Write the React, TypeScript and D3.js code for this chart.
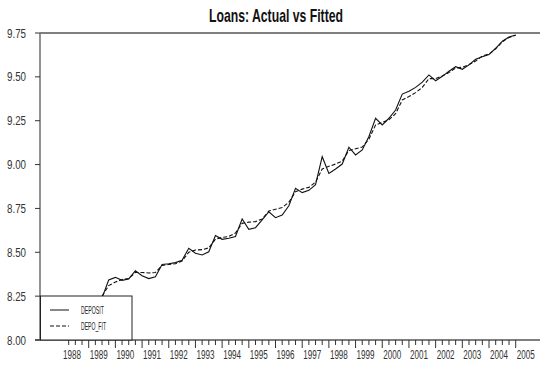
import React from "react";
import * as d3 from "d3";

// Quarterly periods shown on the chart
const periods: string[] = [
  "1989Q3", "1989Q4",
  "1990Q1", "1990Q2", "1990Q3", "1990Q4",
  "1991Q1", "1991Q2", "1991Q3", "1991Q4",
  "1992Q1", "1992Q2", "1992Q3", "1992Q4",
  "1993Q1", "1993Q2", "1993Q3", "1993Q4",
  "1994Q1", "1994Q2", "1994Q3", "1994Q4",
  "1995Q1", "1995Q2", "1995Q3", "1995Q4",
  "1996Q1", "1996Q2", "1996Q3", "1996Q4",
  "1997Q1", "1997Q2", "1997Q3", "1997Q4",
  "1998Q1", "1998Q2", "1998Q3", "1998Q4",
  "1999Q1", "1999Q2", "1999Q3", "1999Q4",
  "2000Q1", "2000Q2", "2000Q3", "2000Q4",
  "2001Q1", "2001Q2", "2001Q3", "2001Q4",
  "2002Q1", "2002Q2", "2002Q3", "2002Q4",
  "2003Q1", "2003Q2", "2003Q3", "2003Q4",
  "2004Q1", "2004Q2", "2004Q3", "2004Q4",
  "2005Q1",
];

// Log of loans (actual)
const deposit: number[] = [
  8.24, 8.342,
  8.357, 8.34, 8.348, 8.395,
  8.366, 8.35, 8.36, 8.43,
  8.435, 8.441, 8.455, 8.523,
  8.495, 8.485, 8.503, 8.595,
  8.574, 8.58, 8.59, 8.69,
  8.631, 8.64, 8.685, 8.731,
  8.697, 8.712, 8.765, 8.865,
  8.84, 8.853, 8.885, 9.045,
  8.95, 8.975, 9.003, 9.099,
  9.055, 9.083, 9.16, 9.264,
  9.226, 9.264, 9.311, 9.402,
  9.418, 9.44, 9.47, 9.511,
  9.478, 9.503, 9.532, 9.558,
  9.543, 9.568, 9.6, 9.615,
  9.627, 9.663, 9.703, 9.727,
  9.739,
];

// Fitted values from the regression
const depoFit: number[] = [
  8.25, 8.31,
  8.33, 8.345, 8.35, 8.385,
  8.385, 8.382, 8.385, 8.425,
  8.43, 8.435, 8.45, 8.5,
  8.513, 8.515, 8.525, 8.575,
  8.585, 8.59, 8.61, 8.665,
  8.672, 8.675, 8.69, 8.735,
  8.745, 8.755, 8.785, 8.845,
  8.86, 8.87, 8.9, 8.975,
  8.99, 9.003, 9.02, 9.08,
  9.09, 9.1, 9.145, 9.226,
  9.24, 9.255, 9.29, 9.368,
  9.388, 9.41, 9.44, 9.49,
  9.49, 9.505, 9.525, 9.55,
  9.555, 9.57, 9.59, 9.62,
  9.63, 9.66, 9.7, 9.725,
  9.737,
];

const yTicks: number[] = [8.0, 8.25, 8.5, 8.75, 9.0, 9.25, 9.5, 9.75];
const yearLabels: number[] = d3.range(1988, 2006);
const seriesNames: string[] = ["DEPOSIT", "DEPO_FIT"];

const W = 540;
const H = 368;
const left = 40;
const right = 540;
const top = 33;
const bottom = 340;

const toYear = (p: string) => +p.slice(0, 4) + (+p.slice(5) - 1) / 4;

export default function App() {
  const x = d3.scaleLinear().domain([1988, 2005]).range([62, 515.7]);
  const y = d3.scaleLinear().domain([8, 9.75]).range([bottom, top]);

  const line = d3
    .line<number>()
    .x((_, i) => x(toYear(periods[i])))
    .y((v) => y(v));

  const quarterTicks = d3.range(1, 17 * 4 + 1).map((i) => 1988 + i / 4);
  const narrow = "'Liberation Sans Narrow', 'Arial Narrow', 'Liberation Sans', Arial, sans-serif";

  return (
    <svg
      width={W}
      height={H}
      style={{ position: "absolute", left: 0, top: 0, background: "#fff" }}
    >
      <defs>
        <clipPath id="plotClip">
          <rect x={left} y={top} width={right - left} height={bottom - top} />
        </clipPath>
      </defs>
      <rect x={0} y={0} width={W} height={H} fill="#fff" />

      <text
        x={276}
        y={22}
        textAnchor="middle"
        fontFamily={narrow}
        fontWeight="bold"
        fontSize={19}
        textLength={134}
        lengthAdjust="spacingAndGlyphs"
        fill="#111"
      >
        Loans: Actual vs Fitted
      </text>

      {/* series */}
      <g clipPath="url(#plotClip)" fill="none">
        <path d={line(deposit) ?? ""} stroke="#111" strokeWidth={1.1} />
        <path
          d={line(depoFit) ?? ""}
          stroke="#111"
          strokeWidth={1.1}
          strokeDasharray="4,2"
        />
      </g>

      {/* frame */}
      <line x1={left} x2={right} y1={top} y2={top} stroke="#000" strokeWidth={1.2} />
      <line x1={35} x2={right} y1={bottom} y2={bottom} stroke="#000" strokeWidth={1.2} />
      <line x1={left} x2={left} y1={top} y2={bottom} stroke="#777" strokeWidth={1.6} />

      {/* y axis */}
      {yTicks.map((t) => (
        <g key={t}>
          <line x1={35} x2={left} y1={y(t)} y2={y(t)} stroke="#333" strokeWidth={1} />
          <text
            x={26}
            y={y(t)}
            dy="0.36em"
            textAnchor="end"
            fontFamily={narrow}
            fontSize={12.5}
            textLength={19}
            lengthAdjust="spacingAndGlyphs"
            fill="#333"
          >
            {t.toFixed(2)}
          </text>
        </g>
      ))}

      {/* x axis */}
      {quarterTicks.map((q) => {
        const major = Math.abs(q - Math.round(q)) < 1e-6;
        return (
          <line
            key={q}
            x1={x(q)}
            x2={x(q)}
            y1={bottom}
            y2={bottom + (major ? 8 : 5)}
            stroke="#333"
            strokeWidth={1}
          />
        );
      })}
      {yearLabels.map((yr) => (
        <text
          key={yr}
          x={x(yr) + 1}
          y={359}
          fontFamily={narrow}
          fontSize={12}
          textLength={18}
          lengthAdjust="spacingAndGlyphs"
          fill="#333"
        >
          {yr}
        </text>
      ))}

      {/* legend */}
      <g>
        <rect x={40.5} y={296} width={91.5} height={44} fill="#fff" stroke="#222" strokeWidth={1} />
        <line x1={50} x2={69} y1={310} y2={310} stroke="#111" strokeWidth={1} />
        <line x1={50} x2={69} y1={326} y2={326} stroke="#111" strokeWidth={1} strokeDasharray="4,2" />
        {seriesNames.map((n, i) => (
          <text
            key={n}
            x={81}
            y={310 + i * 16}
            dy="0.36em"
            fontFamily={narrow}
            fontSize={10.5}
            textLength={i === 0 ? 23 : 25}
            lengthAdjust="spacingAndGlyphs"
            fill="#222"
          >
            {n}
          </text>
        ))}
      </g>
    </svg>
  );
}
